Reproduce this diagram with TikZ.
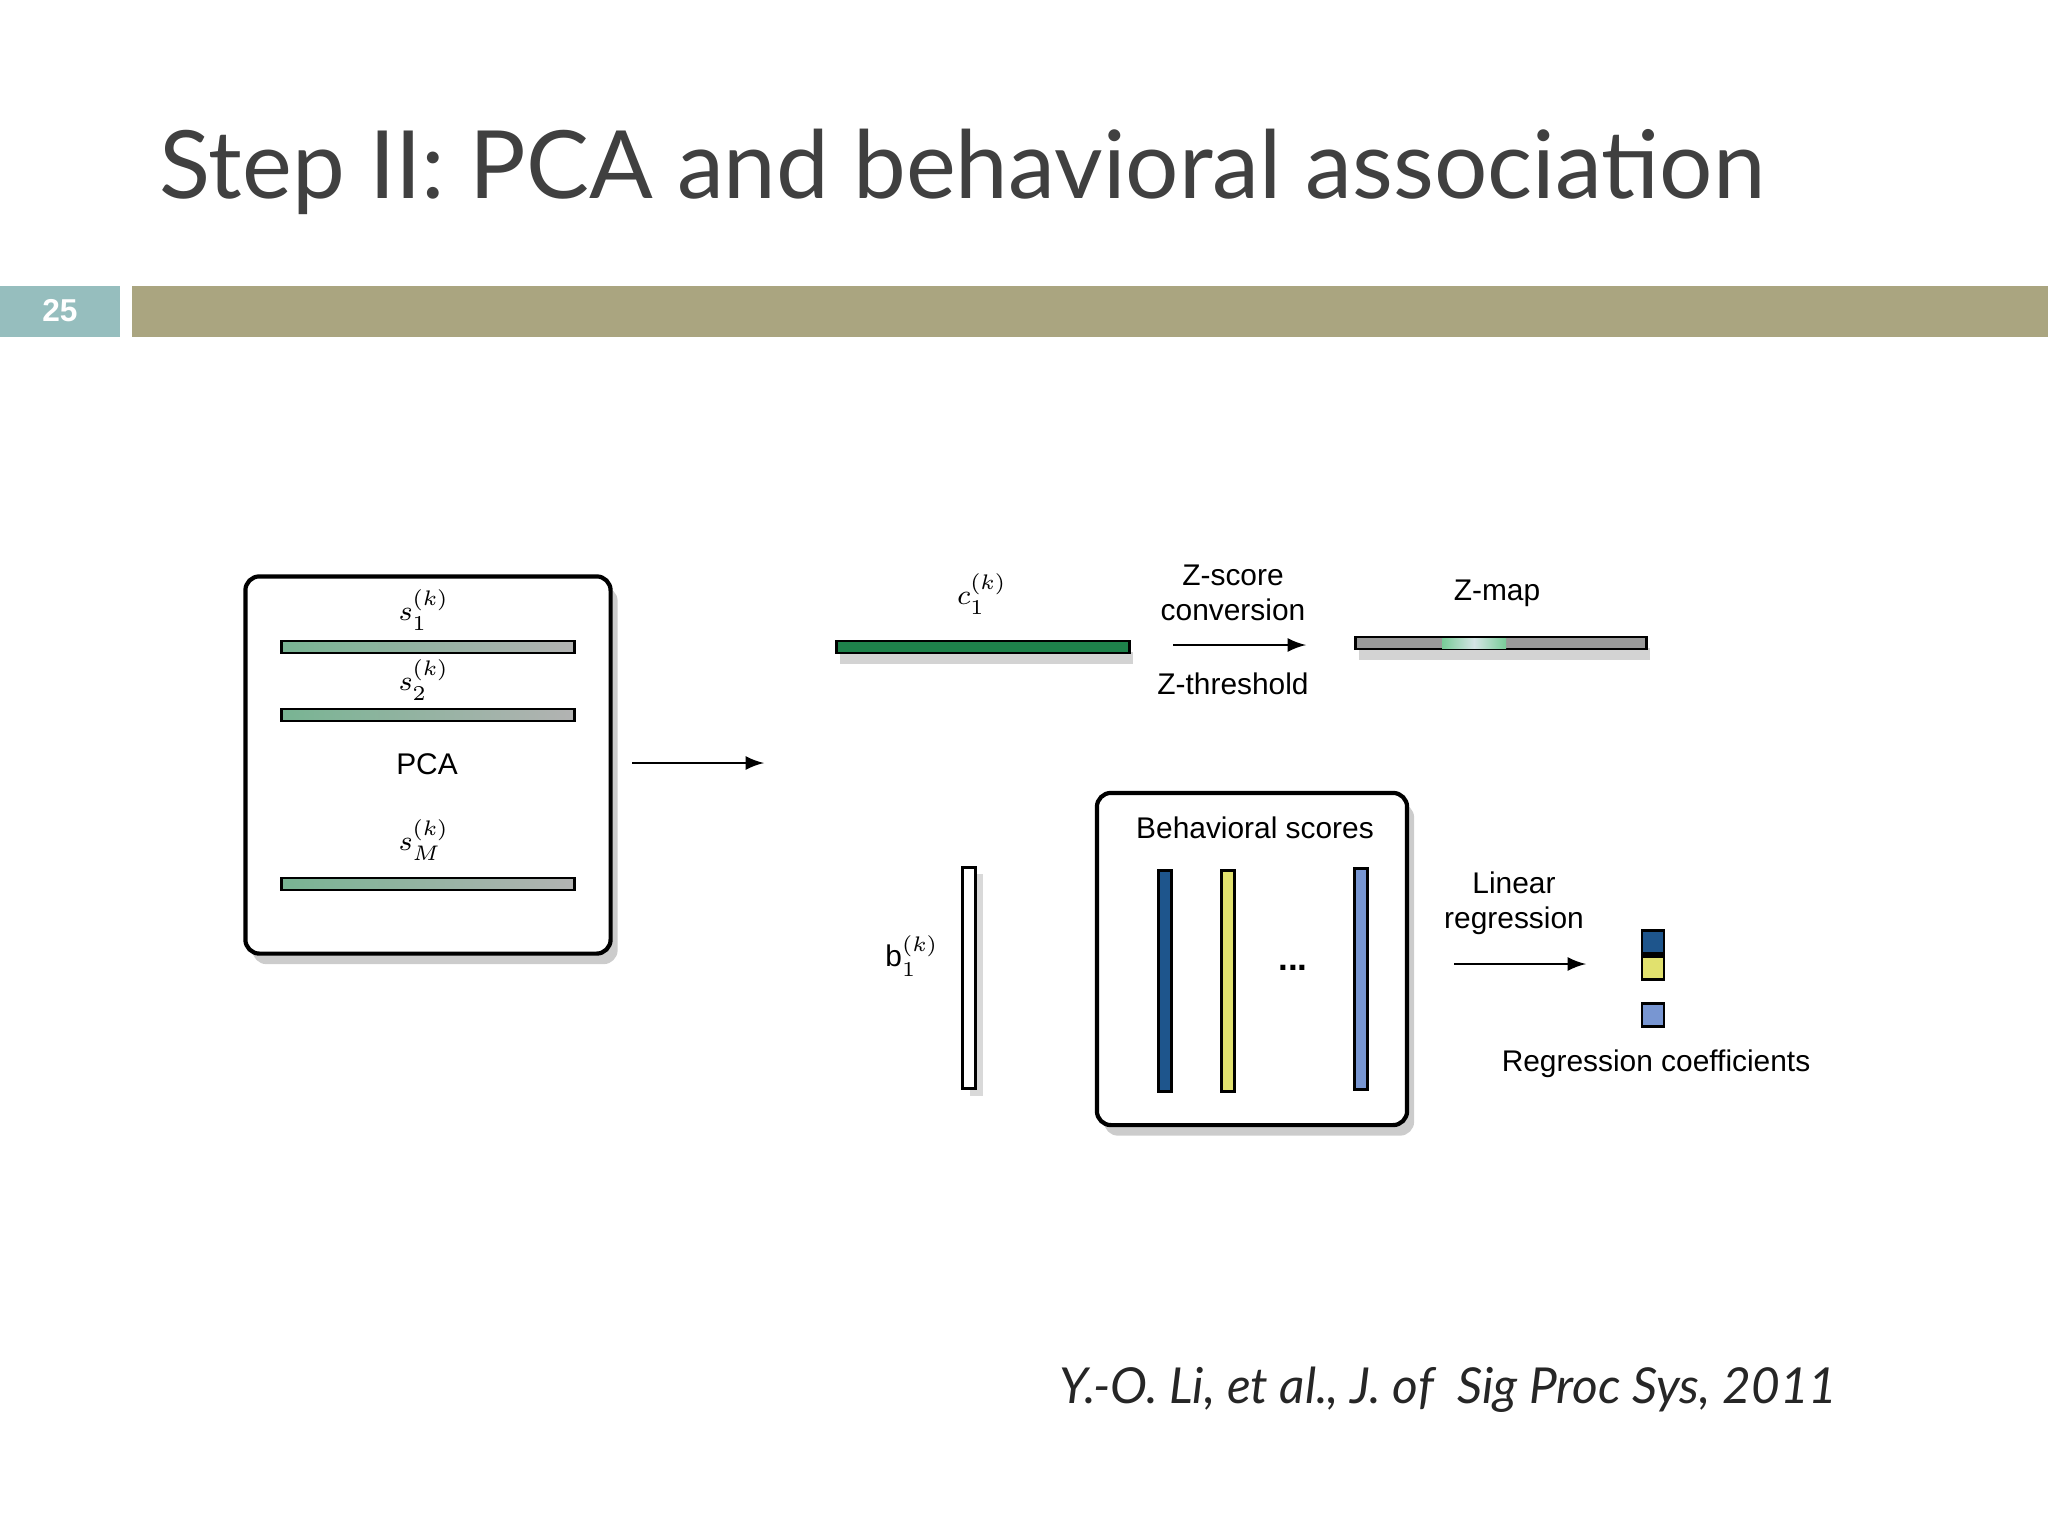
\documentclass[tikz,border=0pt]{standalone}
\usepackage{fontspec}
\setmainfont{Liberation Sans}
\newfontfamily\titlefont{Lato}
\usetikzlibrary{arrows, positioning, shadows}
\definecolor{olivebar}{RGB}{170,165,128}
\definecolor{tealbox}{RGB}{150,190,190}
\definecolor{dkgreen}{RGB}{30,130,75}
\definecolor{dkblue}{RGB}{30,85,140}
\definecolor{ltyellow}{RGB}{225,225,110}
\definecolor{ltblue}{RGB}{120,150,210}
\begin{document}
\begin{tikzpicture}[x=0.01cm, y=-0.01cm,
    frame/.style={draw, very thick, rounded corners=4pt, fill=white, drop shadow={shadow xshift=2pt, shadow yshift=-3pt, opacity=0.4}},
    hbar/.style={draw, thick, minimum width=2.93cm, minimum height=0.12cm, inner sep=0pt},
    vbar/.style={draw, thick, minimum width=0.13cm, minimum height=2.21cm, inner sep=0pt},
    cell/.style={draw, thick, minimum width=0.22cm, minimum height=0.23cm, inner sep=0pt},
    lbl/.style={font=\fontsize{8.5}{10}\selectfont, align=center, inner sep=1pt},
    arrow/.style={-latex, thick}
]
\useasboundingbox (0,0) rectangle (2048,1536);

% Title and header band
\node[anchor=base west, inner sep=0pt, text=black!75, font=\titlefont\fontsize{26.8}{32}\selectfont] (title) at (159,198) {Step II: PCA and behavioral association};
\fill[tealbox] (0,286) rectangle (120,337);
\fill[olivebar] (132,286) rectangle (2048,337);
\node[text=white, font=\bfseries\fontsize{9}{10}\selectfont] (page) at (60,311) {25};

% PCA box
\node[frame, minimum width=3.65cm, minimum height=3.77cm] (pca) at (428,765) {};
\node[hbar, left color=dkgreen!60, right color=black!30] (s1) at (428,647) {};
\node[hbar, left color=dkgreen!60, right color=black!30] (s2) at (428,715) {};
\node[hbar, left color=dkgreen!60, right color=black!30] (sM) at (428,884) {};
\node[lbl] (s1l) at (424,610) {$s_1^{(k)}$};
\node[lbl] (s2l) at (424,680) {$s_2^{(k)}$};
\node[lbl] (pcal) at (427,764) {PCA};
\node[lbl] (sMl) at (424,840) {$s_M^{(k)}$};
\coordinate (pcaend) at (764,763);
\draw[arrow] (632,763) -- (pcaend);

% Component and Z-map
\node[hbar, fill=dkgreen, drop shadow={shadow xshift=1pt, shadow yshift=-3pt, opacity=0.35}] (c1) at (983,647) {};
\node[lbl] (c1l) at (982,594) {$c_1^{(k)}$};
\node[lbl] (zconv) at (1233,593) {Z-score\\conversion};
\node[lbl] (zthr) at (1233,684) {Z-threshold};
\node[hbar, minimum width=2.91cm, fill=black!40, drop shadow={shadow xshift=1pt, shadow yshift=-3pt, opacity=0.35}] (zmap) at (1501,643) {};
\fill[left color=tealbox!80!green, right color=tealbox!80!green, middle color=tealbox!40] (1442,638) rectangle (1506,648);
\node[lbl] (zmapl) at (1497,593) {Z-map};
\coordinate (zend) at (1306,645);
\draw[arrow] (1173,645) -- (zend);

% Behavioral scores
\node[lbl] (b1l) at (912,956) {b$_1^{(k)}$};
\node[vbar, fill=white, drop shadow={shadow xshift=2pt, shadow yshift=-2pt, opacity=0.3}] (b1) at (969,978) {};
\node[frame, minimum width=3.10cm, minimum height=3.32cm] (beh) at (1252,959) {};
\node[lbl] (behl) at (1255,828) {Behavioral scores};
\node[vbar, fill=dkblue] (bs1) at (1165,981) {};
\node[vbar, fill=ltyellow] (bs2) at (1228,981) {};
\node[vbar, fill=ltblue] (bs3) at (1361,979) {};
\node[lbl, font=\bfseries\fontsize{10}{10}\selectfont] (dots) at (1293,968) {...};

% Regression
\node[lbl] (linreg) at (1514,903) {Linear\\regression};
\coordinate (regend) at (1586,964);
\draw[arrow] (1454,964) -- (regend);
\node[cell, fill=dkblue] (r1) at (1653,942) {};
\node[cell, fill=ltyellow, below=0pt of r1] (r2) {};
\node[cell, fill=ltblue] (r3) at (1653,1015) {};
\node[lbl] (regl) at (1656,1064) {Regression coefficients};

% Citation
\node[anchor=base east, inner sep=0pt, font=\titlefont\itshape\fontsize{14.1}{16}\selectfont, text=black!85] (cite) at (1838,1403) {Y.-O. Li, et al., J. of\ \ Sig Proc Sys, 2011};
\end{tikzpicture}
\end{document}
